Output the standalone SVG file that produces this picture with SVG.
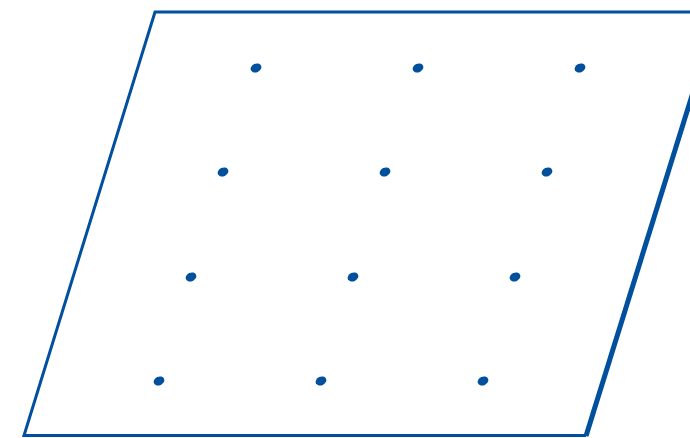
<svg xmlns="http://www.w3.org/2000/svg" width="690" height="438" viewBox="0 0 690 438">
<style>
.edge{fill:none;stroke:#00509e;stroke-width:3;stroke-linejoin:miter}
.thick{fill:none;stroke:#00509e;stroke-width:5}
.pt{fill:#00509e}
</style>
<rect width="690" height="438" fill="#ffffff"/>
<g id="plane">
<polyline class="edge" points="720,12 155,12 24,435.5 586,435.5"/>
<line class="thick" x1="586" y1="436" x2="718" y2="12"/>
</g>
<g id="points">
<g transform="translate(256,68) rotate(-25)"><ellipse class="pt" rx="5.6" ry="4.3"/></g>
<g transform="translate(418,68) rotate(-25)"><ellipse class="pt" rx="5.6" ry="4.3"/></g>
<g transform="translate(580,68) rotate(-25)"><ellipse class="pt" rx="5.6" ry="4.3"/></g>
<g transform="translate(223,172) rotate(-25)"><ellipse class="pt" rx="5.6" ry="4.3"/></g>
<g transform="translate(385,172) rotate(-25)"><ellipse class="pt" rx="5.6" ry="4.3"/></g>
<g transform="translate(547,172) rotate(-25)"><ellipse class="pt" rx="5.6" ry="4.3"/></g>
<g transform="translate(191,277) rotate(-25)"><ellipse class="pt" rx="5.6" ry="4.3"/></g>
<g transform="translate(353,277) rotate(-25)"><ellipse class="pt" rx="5.6" ry="4.3"/></g>
<g transform="translate(515,277) rotate(-25)"><ellipse class="pt" rx="5.6" ry="4.3"/></g>
<g transform="translate(159,381) rotate(-25)"><ellipse class="pt" rx="5.6" ry="4.3"/></g>
<g transform="translate(321,381) rotate(-25)"><ellipse class="pt" rx="5.6" ry="4.3"/></g>
<g transform="translate(483,381) rotate(-25)"><ellipse class="pt" rx="5.6" ry="4.3"/></g>
</g>
</svg>
